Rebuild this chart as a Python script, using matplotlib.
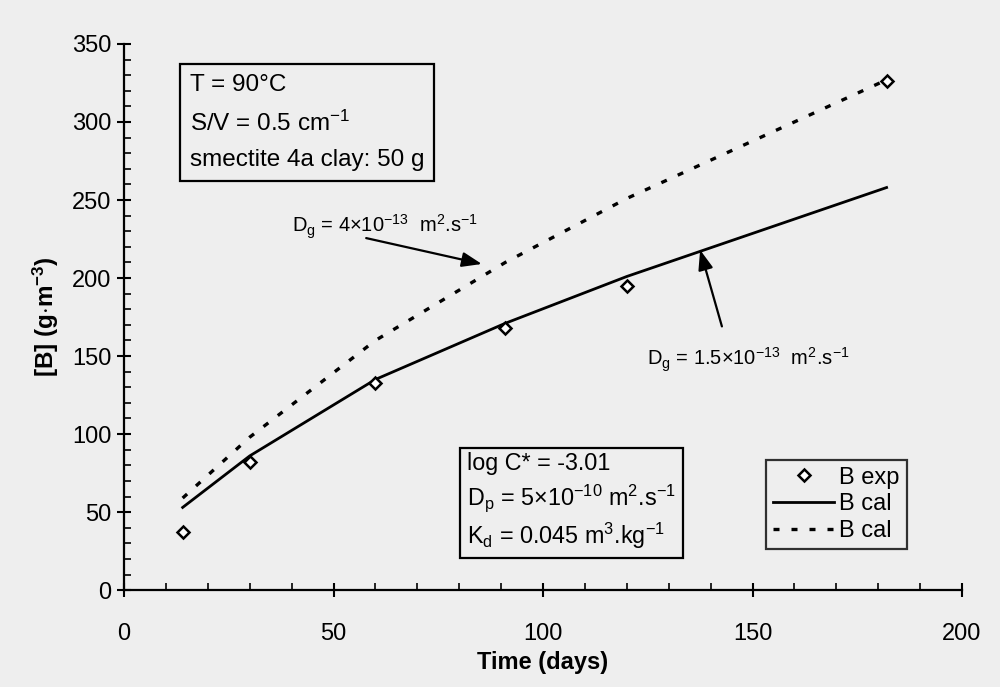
import matplotlib
matplotlib.use("Agg")
import matplotlib.pyplot as plt
from matplotlib.ticker import MultipleLocator

plt.rcParams['font.family'] = ['Liberation Sans', 'DejaVu Sans']
plt.rcParams['mathtext.fontset'] = 'custom'
plt.rcParams['mathtext.rm'] = 'Liberation Sans'
plt.rcParams['mathtext.it'] = 'Liberation Sans:italic'
plt.rcParams['mathtext.bf'] = 'Liberation Sans:bold'

# boron release at 90 C, time in days
t_days = [14, 30, 60, 91, 120, 182]
b_exp = [37, 82, 133, 168, 195, 326]
b_cal_low = [53, 86, 135, 171, 201, 258]    # Dg = 1.5e-13
b_cal_high = [59, 98, 160, 210, 251, 327]   # Dg = 4e-13

x_ticks = [0, 50, 100, 150, 200]
y_ticks = [0, 50, 100, 150, 200, 250, 300, 350]

bg = '#eeeeee'
fig = plt.figure(figsize=(10, 6.87), dpi=100, facecolor=bg)
ax = fig.add_axes([0.124, 0.141, 0.838, 0.795])
ax.set_facecolor(bg)

ax.plot(t_days, b_exp, linestyle='none', marker='D', markersize=6,
        markerfacecolor='white', markeredgecolor='k', markeredgewidth=1.8,
        label='B exp', zorder=4)
ax.plot(t_days, b_cal_low, color='k', linewidth=2.0, label='B cal')
ax.plot(t_days, b_cal_high, color='k', linewidth=2.4, dashes=(1.8, 3.6),
        label='B cal')

ax.set_xlim(0, 200)
ax.set_ylim(0, 350)
ax.set_xticks(x_ticks)
ax.set_yticks(y_ticks)
ax.xaxis.set_minor_locator(MultipleLocator(10))
ax.yaxis.set_minor_locator(MultipleLocator(10))
ax.tick_params(axis='x', which='major', direction='inout', length=10, width=1.5,
               pad=19, labelsize=17)
ax.tick_params(axis='y', which='major', direction='inout', length=10, width=1.5,
               pad=4, labelsize=17)
ax.tick_params(which='minor', direction='in', length=5, width=1.2)
for side in ['top', 'right']:
    ax.spines[side].set_visible(False)
for side in ['left', 'bottom']:
    ax.spines[side].set_linewidth(1.6)

ax.set_xlabel('Time (days)', fontsize=17, fontweight='bold', labelpad=4)
ax.set_ylabel(r'[B] (g$\cdot$m$^{\mathbf{-3}}$)', fontsize=17.5, fontweight='bold',
              labelpad=8)

box = dict(boxstyle='square,pad=0.4', facecolor='none', edgecolor='k', linewidth=1.6)
ax.text(0.079, 0.945,
        'T = 90°C\nS/V = 0.5 cm$^{-1}$\nsmectite 4a clay: 50 g',
        transform=ax.transAxes, fontsize=17.5, va='top', ha='left',
        linespacing=1.75, bbox=box)
ax.text(0.409, 0.252,
        'log C* = -3.01\n'
        r'D$_\mathrm{p}$ = 5×10$^{-10}$ m$^2$.s$^{-1}$' '\n'
        r'K$_\mathrm{d}$ = 0.045 m$^3$.kg$^{-1}$',
        transform=ax.transAxes, fontsize=16.8, va='top', ha='left',
        linespacing=1.3, bbox=dict(box, boxstyle='square,pad=0.3'))

arrow = dict(arrowstyle='-|>,head_length=1.2,head_width=0.45', color='k',
             linewidth=1.6, shrinkA=0, shrinkB=0)
ax.annotate('', xy=(85.4, 209), xytext=(57.8, 225.6), arrowprops=arrow)
ax.text(40.1, 229.5, r'D$_\mathrm{g}$ = 4×10$^{-13}$  m$^2$.s$^{-1}$',
        fontsize=14.5, ha='left', va='baseline')
ax.annotate('', xy=(137.5, 218), xytext=(142.7, 169), arrowprops=arrow)
ax.text(124.8, 144, r'D$_\mathrm{g}$ = 1.5×10$^{-13}$  m$^2$.s$^{-1}$',
        fontsize=14.5, ha='left', va='baseline')

leg = ax.legend(loc='lower left', bbox_to_anchor=(0.766, 0.075), fontsize=17,
                frameon=True, fancybox=False, edgecolor='k', facecolor='none',
                handlelength=2.6, handletextpad=0.2, borderpad=0.3,
                labelspacing=0.2, borderaxespad=0)
leg.get_frame().set_linewidth(1.6)

fig.savefig('out.png', dpi=100, facecolor=bg)
